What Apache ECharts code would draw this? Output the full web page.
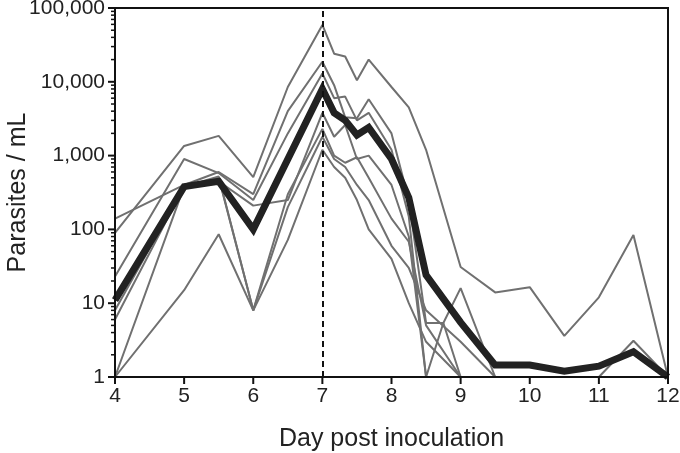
<!DOCTYPE html>
<html><head><meta charset="utf-8">
<script src="https://cdn.jsdelivr.net/npm/echarts@6/dist/echarts.min.js"></script>
<style>html,body{margin:0;padding:0;background:#fff}#c{width:680px;height:453px}</style>
</head><body><div id="c"></div>
<script>
const days = [4, 5, 5.5, 6, 6.5, 7, 7.17, 7.33, 7.5, 7.67, 8, 8.25, 8.5, 8.75, 9, 9.5, 10, 10.5, 11, 11.5, 12];
const g1 = [90, 1350, 1850, 510, 8500, 59000, 24000, 22000, 10500, 20000, 8500, 4500, 1200, null, 31, 14, 16.5, 3.6, 12, 84, 1];
const g2 = [140, 400, 600, 300, 4000, 18700, 9000, 3300, 3200, 5800, 2000, 250, 5.4, 5.4, 1, null, null, null, 1, 3.1, 1];
const g3 = [23, 900, 580, 250, 2000, 13000, 6000, 6300, 3000, 3800, 1200, 150, 1, 5.4, 16, 1, null, null, null, null, null];
const g4 = [8, 380, 450, 210, 250, 3800, 1800, 2600, 900, 1000, 400, 80, 1, null, null, null, null, null, null, null, null];
const g5 = [6, 380, 500, 8, 300, 2300, 1000, 800, 950, 500, 140, 68, 5, null, 1, null, null, null, null, null, null];
const g6 = [1, 380, 520, 8, 200, 1800, 900, 700, 400, 250, 60, 30, 8, null, 3, 1, null, null, null, null, null];
const g7 = [1, 15, 86, 8, 72, 1200, 700, 500, 250, 100, 40, 10, 3, null, 1, null, null, null, null, null, null];
const meanVals = [11, 380, 450, 100, null, 8000, 3800, 3000, 1900, 2400, 900, 270, 24, null, 5.5, 1.45, 1.45, 1.2, 1.4, 2.2, 1];
const xTicks = [4, 5, 6, 7, 8, 9, 10, 11, 12];
const yMajor = [1, 10, 100, 1000, 10000, 100000];
const peakDay = 7;

// minor log tick values: 2..9 within each decade
const yMinor = [];
for (let e = 0; e < 5; e++) for (let k = 2; k <= 9; k++) yMinor.push(k * Math.pow(10, e));

function pairs(vals) {
  const out = [];
  vals.forEach((v, i) => { if (v !== null) out.push([days[i], v]); });
  return out;
}
const font = 'Liberation Sans, Arial, sans-serif';
const grays = [g1, g2, g3, g4, g5, g6, g7].map(g => ({
  type: 'line', data: pairs(g), symbol: 'none', silent: true,
  lineStyle: { color: '#707070', width: 2 }, z: 2
}));
const chart = echarts.init(document.getElementById('c'), null, { renderer: 'canvas' });
chart.setOption({
  animation: false,
  grid: { left: 115, right: 12, top: 8, bottom: 76, show: true, borderColor: '#111', borderWidth: 2, z: 5,
          containLabel: false, outerBoundsMode: 'none' },
  xAxis: {
    type: 'value', min: xTicks[0], max: xTicks[xTicks.length - 1], interval: 1, z: 6,
    name: 'Day post inoculation', nameLocation: 'middle', nameGap: 50,
    nameTextStyle: { fontFamily: font, fontSize: 25, color: '#222' },
    axisLine: { show: true, lineStyle: { color: '#111', width: 2 } },
    axisTick: { show: false },
    axisLabel: { fontFamily: font, fontSize: 21, color: '#222', margin: 9 },
    splitLine: { show: false }
  },
  yAxis: {
    type: 'log', logBase: 10, min: yMajor[0], max: yMajor[yMajor.length - 1], z: 6,
    name: 'Parasites / mL', nameLocation: 'middle', nameGap: 84, nameMoveOverlap: false,
    nameTextStyle: { fontFamily: font, fontSize: 25, color: '#222' },
    axisLine: { show: true, lineStyle: { color: '#111', width: 2 } },
    axisTick: { show: false },
    axisLabel: { fontFamily: font, fontSize: 21, color: '#222', margin: 10,
      formatter: v => Math.round(v).toLocaleString('en-US') },
    splitLine: { show: false }
  },
  series: grays.concat([{
    type: 'line', data: pairs(meanVals), symbol: 'none', silent: true,
    lineStyle: { color: '#222', width: 7, join: 'miter' }, z: 3,
    markLine: {
      silent: true, symbol: 'none', label: { show: false },
      lineStyle: { color: '#111', width: 2, type: [6, 4] },
      data: [{ xAxis: peakDay }]
    }
  }])
});

// Axis tick marks, positioned through the chart's own axis scales
const x0 = chart.convertToPixel({ xAxisIndex: 0 }, xTicks[0]);
const y0 = chart.convertToPixel({ yAxisIndex: 0 }, yMajor[0]);
const tickStyle = (w) => ({ stroke: '#111', lineWidth: w });
const ticks = [];
xTicks.forEach(v => {
  const px = chart.convertToPixel({ xAxisIndex: 0 }, v);
  ticks.push({ type: 'line', silent: true, z: 100,
    shape: { x1: px, y1: y0, x2: px, y2: y0 + 7 }, style: tickStyle(2) });
});
yMajor.forEach(v => {
  const py = chart.convertToPixel({ yAxisIndex: 0 }, v);
  ticks.push({ type: 'line', silent: true, z: 100,
    shape: { x1: x0 - 7, y1: py, x2: x0, y2: py }, style: tickStyle(2) });
});
yMinor.forEach(v => {
  const py = chart.convertToPixel({ yAxisIndex: 0 }, v);
  ticks.push({ type: 'line', silent: true, z: 100,
    shape: { x1: x0 - 4, y1: py, x2: x0, y2: py }, style: tickStyle(1.5) });
});
chart.setOption({ graphic: ticks });
</script></body></html>
